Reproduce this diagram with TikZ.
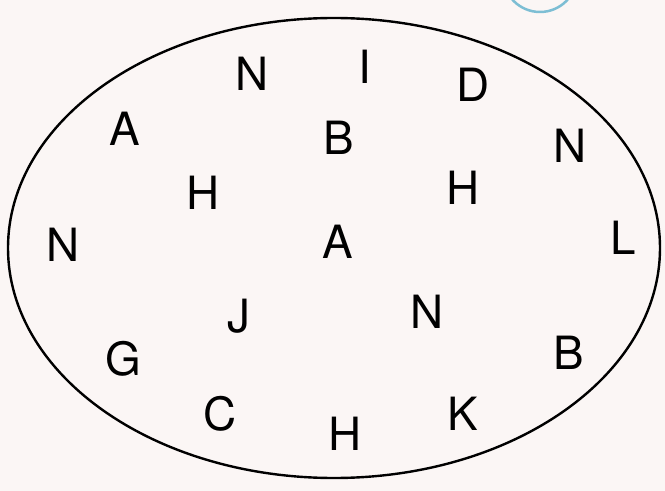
\documentclass[tikz,border=0pt]{standalone}
\usepackage{fontspec}
\setmainfont{TeX Gyre Heros}
\usepackage{xcolor}
\definecolor{paper}{RGB}{251,246,245}
\definecolor{ringblue}{RGB}{125,190,212}
\tikzset{letter/.style={inner sep=0pt,font=\fontsize{46}{54}\selectfont}}
\begin{document}
\begin{tikzpicture}[x=1bp,y=-1bp]
\useasboundingbox (0,0) rectangle (665,491);
\fill[paper] (0,0) rectangle (665,491);
\begin{scope}
\clip (0,0) rectangle (665,491);
\draw[ringblue,line width=2.5bp] (540,-25) circle [radius=37];
\end{scope}
\draw[line width=2.4bp] (334,248) ellipse [x radius=326, y radius=230];
\foreach \x/\y/\t [count=\i] in {252/74/N, 365/67/I, 473/85/D, 125/129/A, 339/138/B, 570/146/N,
  203/193/H, 463/188/H, 63/245/N, 338/242/A, 623/238/L, 239/316/J, 427/312/N,
  123/359/G, 569/353/B, 220/414/C, 345/434/H, 463/414/K}{
  \node[letter] (l\i) at (\x,\y) {\t};}
\end{tikzpicture}
\end{document}
